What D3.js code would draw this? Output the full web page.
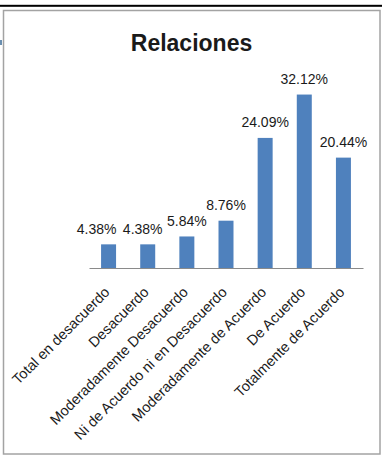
<!DOCTYPE html>
<html>
<head>
<meta charset="utf-8">
<script src="https://cdn.jsdelivr.net/npm/d3@7"></script>
<style>
  html, body { margin: 0; padding: 0; background: #fff; }
  svg { display: block; }
  text { font-family: "Liberation Sans", Arial, sans-serif; fill: #1a1a1a; }
</style>
</head>
<body>
<svg id="chart" width="383" height="473"></svg>
<script>
// Survey answers for "Relaciones" (percent of respondents)
const categories = [
  "Total en desacuerdo",
  "Desacuerdo",
  "Moderadamente Desacuerdo",
  "Ni de Acuerdo ni en Desacuerdo",
  "Moderadamente de Acuerdo",
  "De Acuerdo",
  "Totalmente de Acuerdo"
];
const values = [4.38, 4.38, 5.84, 8.76, 24.09, 32.12, 20.44];
const valueLabels = ["4.38%", "4.38%", "5.84%", "8.76%", "24.09%", "32.12%", "20.44%"];
const chartTitle = "Relaciones";

// Layout: labels on the low bars were dragged left so they don't crowd each other
const labelShift = [-12, -5, 0, 0, 0, 0, 0];

const svg = d3.select("#chart");
const W = 383, H = 473;

svg.append("rect").attr("width", W).attr("height", H).attr("fill", "#fff");

// heavy rule across the top of the sheet
svg.append("rect").attr("x", 0).attr("y", 4.8).attr("width", 382).attr("height", 2).attr("fill", "#000");
// sliver of a neighbouring cell at the left edge
svg.append("rect").attr("x", 0).attr("y", 40).attr("width", 2).attr("height", 5).attr("fill", "#6a8fb0");

// chart frame
svg.append("rect")
  .attr("x", 3.5).attr("y", 10.5)
  .attr("width", 376.5).attr("height", 443.5)
  .attr("fill", "#fff")
  .attr("stroke", "#a3a3a3")
  .attr("stroke-width", 1.5);

svg.append("text")
  .attr("x", 191.5).attr("y", 51)
  .attr("text-anchor", "middle")
  .attr("font-size", 23)
  .attr("font-weight", "bold")
  .text(chartTitle);

const x = d3.scaleBand()
  .domain(categories)
  .range([89, 363])
  .paddingInner(0.617)
  .paddingOuter(0.3085);

const y = d3.scaleLinear().domain([0, 35]).range([268, 79]);

svg.selectAll("rect.bar")
  .data(values)
  .join("rect")
  .attr("class", "bar")
  .attr("x", (d, i) => x(categories[i]))
  .attr("y", d => y(d))
  .attr("width", x.bandwidth())
  .attr("height", d => y(0) - y(d))
  .attr("fill", "#4f81bd");

svg.selectAll("text.val")
  .data(values)
  .join("text")
  .attr("class", "val")
  .attr("x", (d, i) => x(categories[i]) + x.bandwidth() / 2 + labelShift[i])
  .attr("y", d => y(d) - 10.5)
  .attr("text-anchor", "middle")
  .attr("font-size", 14)
  .text((d, i) => valueLabels[i]);

// category axis
const axis = svg.append("g")
  .attr("transform", `translate(0,${y(0)})`)
  .call(d3.axisBottom(x).tickSize(0).tickPadding(0));
axis.select(".domain").attr("stroke", "#8a8a8a").attr("stroke-width", 1.2);
axis.selectAll(".tick text")
  .attr("font-family", "Liberation Sans, Arial, sans-serif")
  .attr("font-size", 14.5)
  .attr("fill", "#1a1a1a")
  .attr("text-anchor", "end")
  .attr("dy", null)
  .attr("y", null)
  .attr("transform", "translate(2,25) rotate(-45)");
</script>
</body>
</html>
